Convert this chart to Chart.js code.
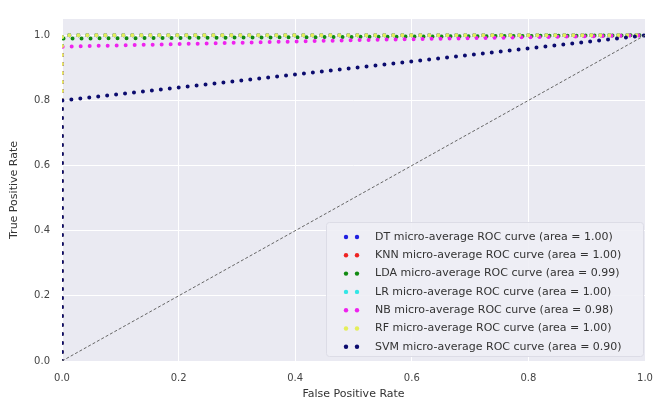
<!DOCTYPE html>
<html>
<head>
<meta charset="utf-8">
<script src="https://cdn.jsdelivr.net/npm/chart.js@4"></script>
<style>
  html, body { margin: 0; padding: 0; background: #fff; }
  #wrap { width: 655px; height: 402px; }
</style>
</head>
<body>
<div id="wrap"><canvas id="rocChart" width="655" height="402"></canvas></div>
<script>
// ROC curve data (false positive rate / true positive rate)
const models = ['DT', 'KNN', 'LDA', 'LR', 'NB', 'RF', 'SVM'];
const areas = ['1.00', '1.00', '0.99', '1.00', '0.98', '1.00', '0.90'];
const colors = ['#1f1fe0', '#ee2222', '#118a11', '#33e6e6', '#ee22ee', '#e4ee5a', '#0b0b6e'];

const dtFpr = [0, 0, 1];      const dtTpr = [0, 1, 1];
const knnFpr = [0, 0, 1];     const knnTpr = [0, 1, 1];
const ldaFpr = [0, 0, 1];     const ldaTpr = [0, 0.99, 1];
const lrFpr = [0, 0, 1];      const lrTpr = [0, 1, 1];
const nbFpr = [0, 0, 0.5, 1]; const nbTpr = [0, 0.965, 0.985, 1];
const rfFpr = [0, 0, 1];      const rfTpr = [0, 1, 1];
const svmFpr = [0, 0, 1];     const svmTpr = [0, 0.8, 1];
const chanceFpr = [0, 1];     const chanceTpr = [0, 1];

const xTicks = [0, 0.2, 0.4, 0.6, 0.8, 1.0];
const yTicks = [0, 0.2, 0.4, 0.6, 0.8, 1.0];

const fprs = [dtFpr, knnFpr, ldaFpr, lrFpr, nbFpr, rfFpr, svmFpr];
const tprs = [dtTpr, knnTpr, ldaTpr, lrTpr, nbTpr, rfTpr, svmTpr];

function pts(xs, ys) {
    return xs.map((x, i) => ({ x: x, y: ys[i] }));
}

// later models drawn on top (lower order = on top in Chart.js)
const datasets = models.map((m, i) => ({
    label: m + ' micro-average ROC curve (area = ' + areas[i] + ')',
    data: pts(fprs[i], tprs[i]),
    order: models.length - i,
    showLine: true,
    borderColor: colors[i],
    backgroundColor: colors[i],
    borderWidth: 4,
    borderDash: [0, 9],
    borderCapStyle: 'round',
    pointRadius: 0,
    fill: false,
    tension: 0
}));

datasets.push({
    label: 'chance',
    data: pts(chanceFpr, chanceTpr),
    order: 0,
    showLine: true,
    borderColor: '#666',
    borderWidth: 1,
    borderDash: [3, 2],
    pointRadius: 0,
    fill: false
});

// grey plot background like seaborn darkgrid
const plotBg = {
    id: 'plotBg',
    beforeDraw(chart) {
        const { ctx, chartArea: a } = chart;
        ctx.save();
        ctx.fillStyle = '#fff';
        ctx.fillRect(0, 0, chart.width, chart.height);
        ctx.fillStyle = '#eaeaf2';
        ctx.fillRect(a.left, a.top, a.right - a.left, a.bottom - a.top);
        ctx.restore();
    }
};

// legend inside plot, lower right, with two-dot markers
const innerLegend = {
    id: 'innerLegend',
    afterDraw(chart) {
        const ctx = chart.ctx;
        const items = chart.data.datasets.filter(d => d.label !== 'chance');
        const x0 = 326, y0 = 222, w = 317, h = 134, r = 3;
        ctx.save();
        ctx.fillStyle = 'rgba(238,238,245,0.9)';
        ctx.strokeStyle = '#dcdce6';
        ctx.lineWidth = 1;
        ctx.beginPath();
        ctx.roundRect(x0 + 0.5, y0 + 0.5, w, h, r);
        ctx.fill();
        ctx.stroke();
        ctx.font = '11px "DejaVu Sans"';
        ctx.textBaseline = 'middle';
        items.forEach((d, i) => {
            const y = 237 + i * 18.3;
            ctx.fillStyle = d.borderColor;
            [346, 357].forEach(x => {
                ctx.beginPath();
                ctx.arc(x, y, 2.2, 0, Math.PI * 2);
                ctx.fill();
            });
            ctx.fillStyle = '#333';
            ctx.fillText(d.label, 375, y);
        });
        ctx.restore();
    }
};

new Chart(document.getElementById('rocChart'), {
    type: 'scatter',
    data: { datasets: datasets },
    options: {
        responsive: false,
        animation: false,
        layout: { padding: { top: 19, right: 0, left: 0, bottom: 0 } },
        plugins: {
            legend: { display: false },
            tooltip: { enabled: false }
        },
        scales: {
            x: {
                type: 'linear',
                min: 0,
                max: 1,
                afterBuildTicks(s) { s.ticks = xTicks.map(v => ({ value: v })); },
                afterFit(s) { s.height = 41; s.paddingRight = 10; },
                grid: { color: '#fff', lineWidth: 1, drawTicks: false },
                border: { display: false },
                ticks: {
                    padding: 11,
                    color: '#444',
                    font: { family: 'DejaVu Sans', size: 10 },
                    callback: v => v.toFixed(1)
                },
                title: {
                    display: true,
                    text: 'False Positive Rate',
                    color: '#333',
                    font: { family: 'DejaVu Sans', size: 11 },
                    padding: { top: 0, bottom: 1 }
                }
            },
            y: {
                type: 'linear',
                min: 0,
                max: 1.05,
                afterBuildTicks(s) { s.ticks = yTicks.map(v => ({ value: v })); },
                afterFit(s) { s.width = 62; },
                grid: { color: '#fff', lineWidth: 1, drawTicks: false },
                border: { display: false },
                ticks: {
                    padding: 12,
                    color: '#444',
                    font: { family: 'DejaVu Sans', size: 10 },
                    callback: v => v.toFixed(1)
                },
                title: {
                    display: true,
                    text: 'True Positive Rate',
                    color: '#333',
                    font: { family: 'DejaVu Sans', size: 11 },
                    padding: { top: 8, bottom: 0 }
                }
            }
        }
    },
    plugins: [plotBg, innerLegend]
});
</script>
</body>
</html>
